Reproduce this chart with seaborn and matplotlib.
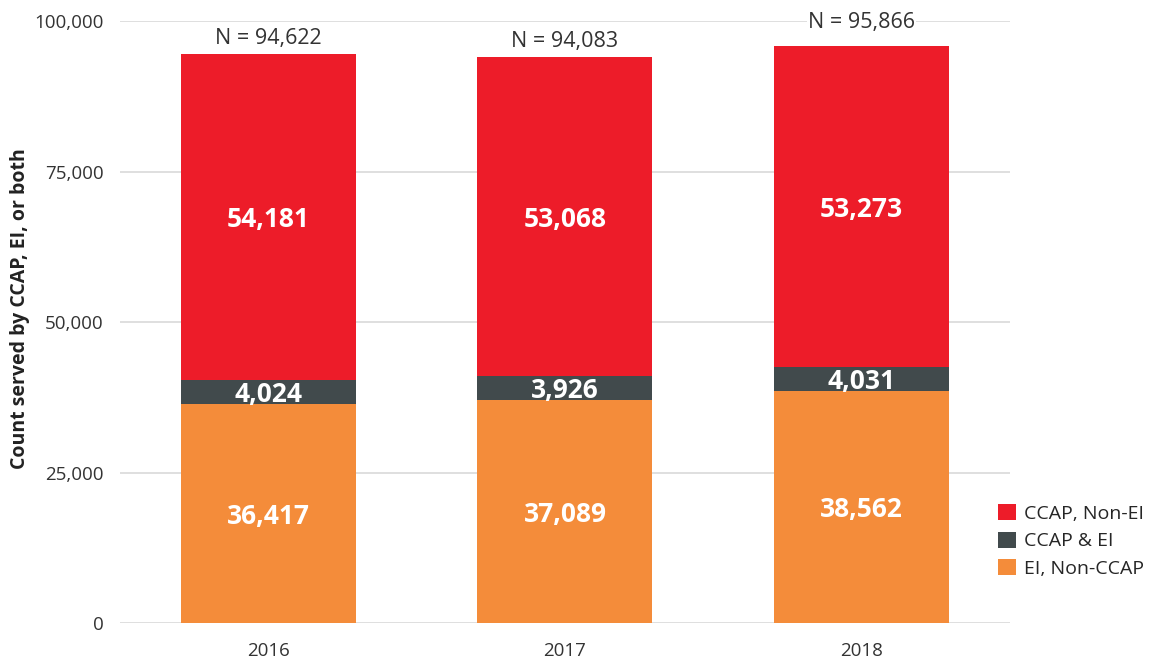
import pandas as pd
import seaborn as sns
from matplotlib import pyplot as plt
from matplotlib.patches import Patch
from matplotlib.ticker import FuncFormatter

years = ["2016", "2017", "2018"]
ei_non_ccap = [36417, 37089, 38562]
ccap_and_ei = [4024, 3926, 4031]
ccap_non_ei = [54181, 53068, 53273]
totals = [94622, 94083, 95866]

series_names = ["CCAP, Non-EI", "CCAP & EI", "EI, Non-CCAP"]
colors = {"CCAP, Non-EI": "#ED1C29", "CCAP & EI": "#414A4C", "EI, Non-CCAP": "#F48C3A"}

sns.set_theme(style="white")
plt.rcParams["font.family"] = ["Open Sans", "DejaVu Sans"]

df = pd.DataFrame({
    "year": years,
    "ei": ei_non_ccap,
    "both": ccap_and_ei,
    "ccap": ccap_non_ei,
})
df["cum_ei"] = df["ei"]
df["cum_both"] = df["ei"] + df["both"]
df["cum_ccap"] = df["cum_both"] + df["ccap"]

fig = plt.figure(figsize=(11.59, 6.62), dpi=100)
ax = fig.add_axes([0.1035, 0.0589, 0.7679, 0.9091])

# stacked by overdrawing cumulative heights, tallest first
for col, name in [("cum_ccap", "CCAP, Non-EI"), ("cum_both", "CCAP & EI"), ("cum_ei", "EI, Non-CCAP")]:
    sns.barplot(data=df, x="year", y=col, color=colors[name], width=0.59,
                saturation=1, linewidth=0, ax=ax, zorder=2)

ax.set_xlim(-0.5, 2.5)
ax.set_ylim(0, 100000)
ax.set_yticks([0, 25000, 50000, 75000, 100000])
ax.yaxis.set_major_formatter(FuncFormatter(lambda v, p: f"{int(v):,}"))
ax.grid(axis="y", color="#d9d9d9", linewidth=1.2, zorder=0)
ax.set_axisbelow(True)
for s in ax.spines.values():
    s.set_visible(False)
ax.tick_params(axis="both", length=0, labelsize=13.5, colors="#333333")
ax.tick_params(axis="y", pad=12)
ax.tick_params(axis="x", pad=14)
ax.set_xlabel("")
ax.set_ylabel("Count served by CCAP, EI, or both", fontsize=14,
              fontweight="bold", color="#222222")
ax.yaxis.set_label_coords(-0.101, 0.522)

for i in range(len(years)):
    lows = [0, ei_non_ccap[i], ei_non_ccap[i] + ccap_and_ei[i]]
    vals = [ei_non_ccap[i], ccap_and_ei[i], ccap_non_ei[i]]
    for lo, v in zip(lows, vals):
        ax.text(i, lo + v / 2, f"{v:,}", ha="center", va="center_baseline",
                color="white", fontsize=19, fontweight="bold", zorder=5)

n_offsets = [11, 11, 17]
for i, t in enumerate(totals):
    ax.annotate(f"N = {t:,}", (i, t), xytext=(0, n_offsets[i]),
                textcoords="offset points", ha="center", va="center",
                fontsize=15.5, color="#333333", zorder=5,
                bbox=dict(facecolor="white", edgecolor="none", pad=1))

handles = [Patch(facecolor=colors[n], edgecolor="none") for n in series_names]
fig.legend(handles, series_names, loc="upper left",
           bbox_to_anchor=(998 / 1159, 1 - 504 / 662),
           frameon=False, fontsize=14, handlelength=0.9, handleheight=0.9,
           handletextpad=0.45, labelspacing=0.45, borderaxespad=0, borderpad=0)

fig.savefig("out.png", dpi=100)
